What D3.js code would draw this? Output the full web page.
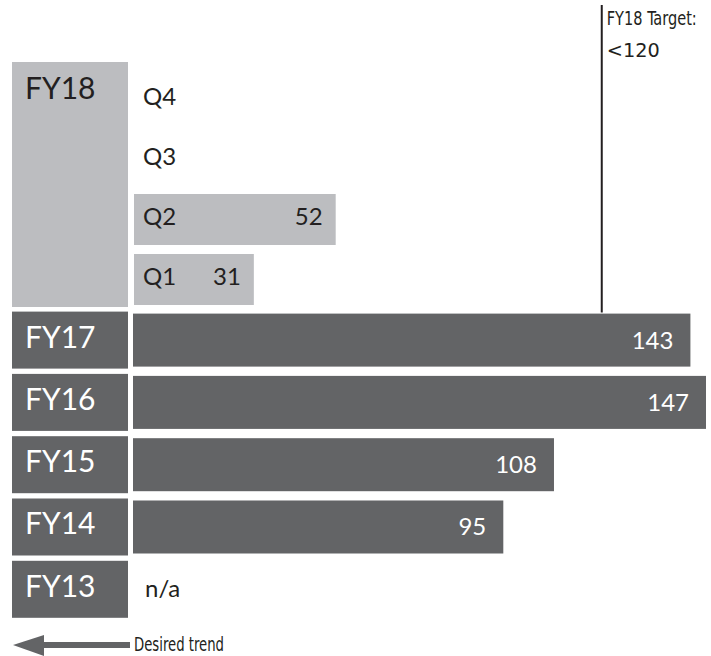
<!DOCTYPE html>
<html>
<head>
<meta charset="utf-8">
<script src="https://cdn.jsdelivr.net/npm/d3@7"></script>
<style>
  body { margin: 0; background: #fff; }
  svg { display: block; }
  .lbl { font-family: Lato, "Open Sans", sans-serif; }
  .narrow { font-family: "Liberation Sans Narrow", "DejaVu Sans Condensed", sans-serif; font-stretch: condensed; }
</style>
</head>
<body>
<svg id="chart" width="711" height="656"></svg>
<script>
// 年度資料 (FY18 與 FY13 沒有整年數字)
const years = ['FY17', 'FY16', 'FY15', 'FY14', 'FY13'];
const yearValues = [143, 147, 108, 95, null];
// FY18 各季
const quarters = ['Q4', 'Q3', 'Q2', 'Q1'];
const quarterValues = [null, null, 52, 31];
const targetValue = 120;
const targetLabel = ['FY18 Target:', '<120'];

const light = '#bcbdc0',
    dark = '#636466',
    ink = '#231f20';

const svg = d3.select('#chart');

// x 比例尺
const x = d3.scaleLinear()
    .domain([0, 147])
    .range([133, 706]);

// 年度列
const yYear = d3.scaleBand()
    .domain(years)
    .range([311.6, 617.8])
    .paddingInner(0.085);

// FY18 的季度列
const yQ = d3.scaleBand()
    .domain(quarters)
    .range([74, 305])
    .paddingInner(0.15);

// FY18 標題框
svg.append('rect')
    .attr('x', 12)
    .attr('y', yQ('Q4') - 12)
    .attr('width', 116)
    .attr('height', yQ('Q1') + yQ.bandwidth() + 2 - (yQ('Q4') - 12))
    .attr('fill', light);

svg.append('text')
    .attr('class', 'lbl')
    .attr('x', 25)
    .attr('y', yQ('Q4') + 25)
    .attr('font-size', 30)
    .attr('fill', ink)
    .text('FY18');

// 季度長條
const qRows = svg.selectAll('.qrow')
    .data(quarters.map((q, i) => ({ name: q, value: quarterValues[i] })))
    .enter()
    .append('g')
    .attr('class', 'qrow')
    .attr('transform', d => `translate(0, ${yQ(d.name)})`);

qRows.filter(d => d.value != null)
    .append('rect')
    .attr('x', x(0) + 1)
    .attr('width', d => x(d.value) - x(0) - 1)
    .attr('height', yQ.bandwidth())
    .attr('fill', light);

qRows.append('text')
    .attr('class', 'lbl')
    .attr('x', 143)
    .attr('y', 31)
    .attr('font-size', 24)
    .attr('fill', ink)
    .text(d => d.name);

qRows.filter(d => d.value != null)
    .append('text')
    .attr('class', 'lbl')
    .attr('x', d => x(d.value) - 13)
    .attr('y', 31)
    .attr('text-anchor', 'end')
    .attr('font-size', 24)
    .attr('fill', ink)
    .text(d => d.value);

// 年度列
const rows = svg.selectAll('.yrow')
    .data(years.map((y, i) => ({ name: y, value: yearValues[i] })))
    .enter()
    .append('g')
    .attr('class', 'yrow')
    .attr('transform', d => `translate(0, ${yYear(d.name)})`);

rows.append('rect')
    .attr('x', 12)
    .attr('width', 116)
    .attr('height', yYear.bandwidth())
    .attr('fill', dark);

rows.append('text')
    .attr('class', 'lbl')
    .attr('x', 25)
    .attr('y', 36)
    .attr('font-size', 30)
    .attr('fill', '#fff')
    .text(d => d.name);

rows.filter(d => d.value != null)
    .append('rect')
    .attr('x', x(0))
    .attr('y', 2)
    .attr('width', d => x(d.value) - x(0))
    .attr('height', yYear.bandwidth() - 4)
    .attr('fill', dark);

rows.filter(d => d.value != null)
    .append('text')
    .attr('class', 'lbl')
    .attr('x', d => x(d.value) - 17)
    .attr('y', 37)
    .attr('text-anchor', 'end')
    .attr('font-size', 24)
    .attr('fill', '#fff')
    .text(d => d.value);

rows.filter(d => d.value == null)
    .append('text')
    .attr('class', 'lbl')
    .attr('x', 145)
    .attr('y', 36)
    .attr('font-size', 24)
    .attr('fill', ink)
    .text('n/a');

// 目標線
svg.append('line')
    .attr('x1', x(targetValue) + 1)
    .attr('x2', x(targetValue) + 1)
    .attr('y1', 5)
    .attr('y2', yYear('FY17') + 1)
    .attr('stroke', ink)
    .attr('stroke-width', 2);

// 窄字體:用 textLength 壓縮寬度
const targetWidths = [90, 53];
svg.selectAll('.target')
    .data(targetLabel)
    .enter()
    .append('text')
    .attr('class', 'narrow target')
    .attr('x', x(targetValue) + 6)
    .attr('y', (d, i) => 25 + i * 32)
    .attr('font-size', 20)
    .attr('textLength', (d, i) => targetWidths[i])
    .attr('lengthAdjust', 'spacingAndGlyphs')
    .attr('fill', ink)
    .text(d => d);

// 趨勢箭頭
const ay = 645;
svg.append('rect')
    .attr('x', 40)
    .attr('y', ay - 3)
    .attr('width', 90)
    .attr('height', 6)
    .attr('fill', dark);
svg.append('path')
    .attr('d', `M13,${ay} L44,${ay - 10} L44,${ay + 11} Z`)
    .attr('fill', dark);

svg.append('text')
    .attr('class', 'narrow')
    .attr('x', 134)
    .attr('y', 651)
    .attr('font-size', 20)
    .attr('textLength', 90)
    .attr('lengthAdjust', 'spacingAndGlyphs')
    .attr('fill', ink)
    .text('Desired trend');
</script>
</body>
</html>
